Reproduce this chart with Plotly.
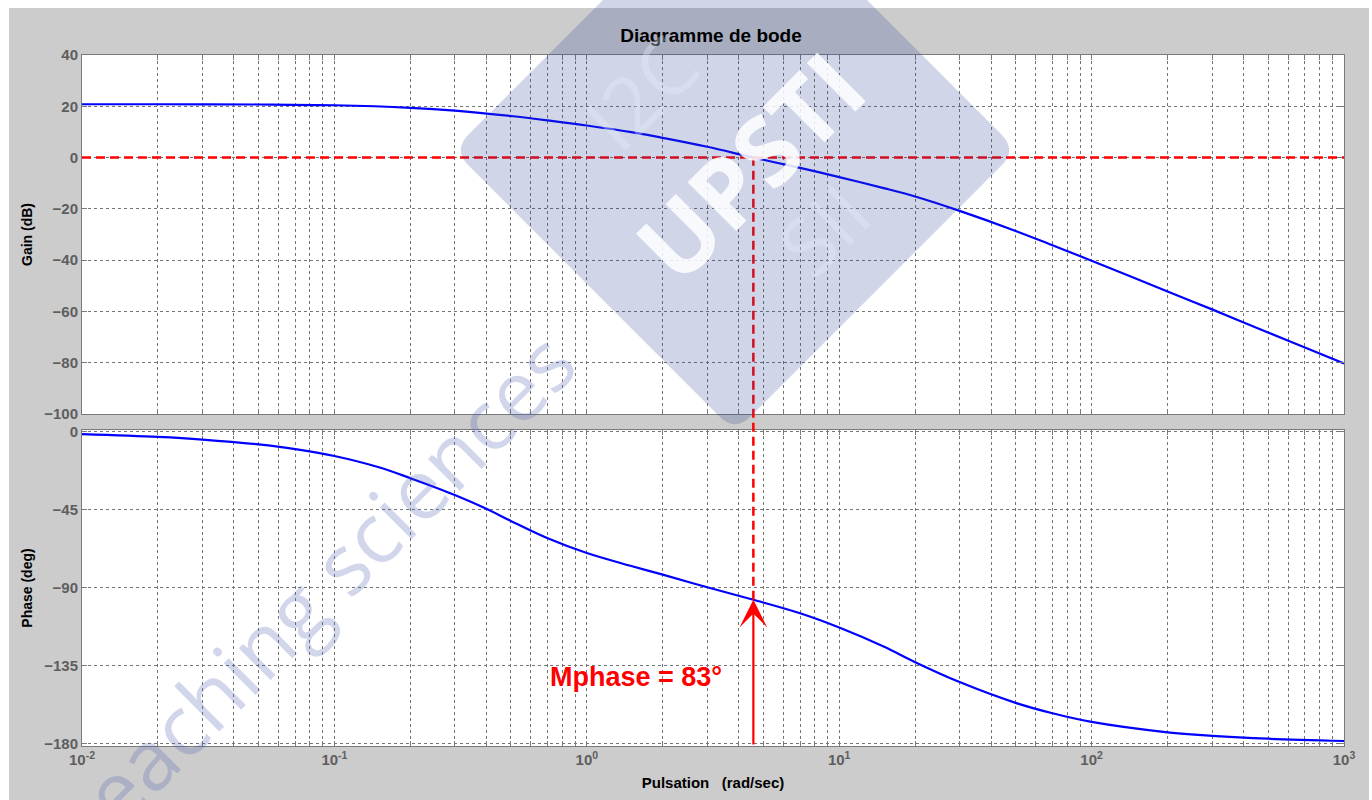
import numpy as np
import plotly.graph_objects as go

# Open-loop frequency response read on the Bode plot
gain_w = [0.01, 0.02, 0.05, 0.1, 0.2, 0.3, 0.5, 0.7, 1, 1.5, 2, 3, 4.57, 7, 10,
          15, 20, 30, 50, 70, 100, 200, 300, 500, 700, 1000]
gain_db = [20.8, 20.8, 20.7, 20.4, 19.4, 18.3, 16.2, 14.5, 12.5, 9.9, 7.7, 4.2, 0.0,
           -4.0, -7.6, -11.9, -15.2, -20.8, -28.6, -34.2, -40.2, -52.2, -59.2,
           -68.2, -74.1, -80.3]

phase_w = [0.01, 0.02, 0.03, 0.05, 0.07, 0.1, 0.15, 0.2, 0.3, 0.4, 0.5, 0.7, 1,
           1.5, 2, 3, 4.57, 7, 10, 15, 20, 30, 50, 70, 100, 200, 300, 500, 1000]
phase_deg = [-1.4, -3.0, -4.5, -7.3, -10.0, -14.0, -20.5, -26.8, -36.5, -44.5,
             -51.5, -61.5, -70.0, -77.5, -82.5, -89.8, -97.0, -104.8, -113.0,
             -124.0, -133.0, -144.5, -156.5, -162.5, -167.5, -173.5, -175.5,
             -177.2, -178.5]

# Gain crossover pulsation and phase there
wc = 4.57
phase_c = -97.0

gain_ticks = [-100, -80, -60, -40, -20, 0, 20, 40]
phase_ticks = [-180, -135, -90, -45, 0]
gain_range = [-100, 40]
phase_range = [-181.4, 1.0]

x_tickvals, x_ticktext = [], []
for e in range(-2, 3):
    for m in range(1, 10):
        x_tickvals.append(m * 10.0 ** e)
        x_ticktext.append(f"10<sup>{e}</sup>" if m == 1 else "")
x_tickvals.append(1000.0)
x_ticktext.append("10<sup>3</sup>")

# Page geometry (pixels)
W, H = 1372, 800
L, R, T, B = 82, 28, 55, 54
PW, PH = W - L - R, H - T - B


def px_x(px):
    return (px - L) / PW


def px_y(py):
    return (H - B - py) / PH


top_dom = [px_y(414), 1.0]
bot_dom = [0.0, px_y(430)]

FONT = "Liberation Sans"
GRID = "#747474"
AXC = "#7a7a7a"

fig = go.Figure()
fig.add_trace(go.Scatter(
    x=gain_w, y=gain_db, mode="lines", xaxis="x", yaxis="y",
    line=dict(color="#0000ff", width=2.2, shape="spline", smoothing=1.0),
    hoverinfo="skip", showlegend=False))
fig.add_trace(go.Scatter(
    x=phase_w, y=phase_deg, mode="lines", xaxis="x2", yaxis="y2",
    line=dict(color="#0000ff", width=2.2, shape="spline", smoothing=1.0),
    hoverinfo="skip", showlegend=False))

axis_common = dict(
    showline=True, linecolor=AXC, linewidth=1, mirror="ticks",
    ticks="inside", ticklen=5, tickcolor=AXC,
    showgrid=True, gridcolor=GRID, gridwidth=1, griddash="3px,3px",
    zeroline=False, automargin=False,
    tickfont=dict(family=FONT, size=15, color="#5e5e5e", weight="bold"),
)
title_font = dict(family=FONT, size=14, color="#000000", weight="bold")

fig.update_layout(
    width=W, height=H,
    margin=dict(l=L, r=R, t=T, b=B, autoexpand=False),
    paper_bgcolor="#ffffff", plot_bgcolor="#ffffff",
    showlegend=False,
    title=dict(text="Diagramme de bode", x=px_x(711), xref="paper",
               xanchor="center", y=1 - 35 / H, yref="container", yanchor="middle",
               font=dict(family=FONT, size=19, color="#000000", weight="bold")),
    xaxis=dict(type="log", range=[-2, 3], domain=[0, 1], anchor="y",
               tickvals=x_tickvals, ticktext=x_ticktext, showticklabels=False,
               **axis_common),
    xaxis2=dict(type="log", range=[-2, 3], domain=[0, 1], anchor="y2",
                matches="x", tickvals=x_tickvals, ticktext=x_ticktext,
                title=dict(text="Pulsation&nbsp;&nbsp;&nbsp;(rad/sec)",
                           font=dict(family=FONT, size=15, color="#000000",
                                     weight="bold"),
                           standoff=10),
                **axis_common),
    yaxis=dict(range=gain_range, domain=top_dom, anchor="x",
               tickvals=gain_ticks,
               title=dict(text="Gain (dB)", font=title_font, standoff=8),
               **axis_common),
    yaxis2=dict(range=phase_range, domain=bot_dom, anchor="x2",
                tickvals=phase_ticks,
                title=dict(text="Phase (deg)", font=title_font, standoff=8),
                **axis_common),
)

shapes = []
# grey window background with white axes boxes
shapes.append(dict(type="rect", xref="paper", yref="paper", layer="below",
                   x0=px_x(9), x1=px_x(1369), y0=px_y(800), y1=px_y(8),
                   fillcolor="#cccccc", line=dict(width=0)))
for xr, yr in (("x domain", "y domain"), ("x2 domain", "y2 domain")):
    shapes.append(dict(type="rect", xref=xr, yref=yr, layer="below",
                       x0=0, x1=1, y0=0, y1=1, fillcolor="#ffffff",
                       line=dict(width=0)))

# 0 dB reference line
shapes.append(dict(type="line", xref="x domain", yref="y", x0=0, x1=1, y0=0, y1=0,
                   line=dict(color="#ff0000", width=2.5, dash="9px,5px")))

# vertical line from the 0 dB crossing down to the phase curve
y_gain0 = top_dom[0] + (0 - gain_range[0]) / (gain_range[1] - gain_range[0]) * (top_dom[1] - top_dom[0])
y_phc = bot_dom[0] + (phase_c - phase_range[0]) / (phase_range[1] - phase_range[0]) * (bot_dom[1] - bot_dom[0])
shapes.append(dict(type="line", xref="x", yref="paper", x0=wc, x1=wc,
                   y0=y_phc, y1=y_gain0,
                   line=dict(color="#ff0000", width=2.5, dash="9px,5px")))

# UPSTI logo diamond (rounded corners)
cx, cy, hd, rc = 735, 150, 282, 22
verts = [(cx, cy - hd), (cx + hd, cy), (cx, cy + hd), (cx - hd, cy)]
path = ""
n = len(verts)
for i in range(n):
    px0, py0 = verts[i - 1]
    vx, vy = verts[i]
    nx, ny = verts[(i + 1) % n]
    d1 = np.hypot(vx - px0, vy - py0)
    d2 = np.hypot(nx - vx, ny - vy)
    a = (vx - (vx - px0) * rc / d1, vy - (vy - py0) * rc / d1)
    b = (vx + (nx - vx) * rc / d2, vy + (ny - vy) * rc / d2)
    path += ("M" if i == 0 else "L") + f"{px_x(a[0]):.5f},{px_y(a[1]):.5f}"
    path += f"Q{px_x(vx):.5f},{px_y(vy):.5f} {px_x(b[0]):.5f},{px_y(b[1]):.5f}"
path += "Z"
shapes.append(dict(type="path", xref="paper", yref="paper", path=path,
                   layer="above", fillcolor="rgba(40,70,150,0.22)",
                   line=dict(width=0)))
fig.update_layout(shapes=shapes)

annotations = [
    # phase margin arrow from the bottom of the phase axes to the curve
    dict(xref="x2", yref="y2", axref="x2", ayref="y2",
         x=np.log10(wc), y=phase_c, ax=np.log10(wc), ay=phase_range[0],
         text="", showarrow=True, arrowhead=3, arrowsize=2.1, arrowwidth=2.2,
         arrowcolor="#ff0000", standoff=0, startstandoff=0),
    dict(xref="paper", yref="paper", x=px_x(636), y=px_y(677),
         text=f"Mphase = {180 + phase_c:.0f}°", showarrow=False,
         xanchor="center", yanchor="middle",
         font=dict(family=FONT, size=27, color="#ff0000", weight="bold")),
    # watermark texts
    dict(xref="paper", yref="paper", x=px_x(640), y=px_y(92),
         text="I2C", showarrow=False, textangle=-45,
         xanchor="center", yanchor="middle",
         font=dict(family="Open Sans", size=80, color="rgba(225,238,252,0.35)")),
    dict(xref="paper", yref="paper", x=px_x(822), y=px_y(228),
         text="SII", showarrow=False, textangle=-45,
         xanchor="center", yanchor="middle",
         font=dict(family="Open Sans", size=80, color="rgba(225,238,252,0.35)")),
    dict(xref="paper", yref="paper", x=px_x(748), y=px_y(165),
         text="UPSTI", showarrow=False, textangle=-45,
         xanchor="center", yanchor="middle",
         font=dict(family="Open Sans", size=96, color="rgba(255,255,255,0.85)",
                   weight="bold")),
    dict(xref="paper", yref="paper", x=px_x(316), y=px_y(588),
         text="teaching sciences", showarrow=False, textangle=-45,
         xanchor="center", yanchor="middle",
         font=dict(family="Open Sans", size=84, color="rgba(70,90,175,0.25)")),
]
fig.update_layout(annotations=annotations)

fig.write_html("out.html")
